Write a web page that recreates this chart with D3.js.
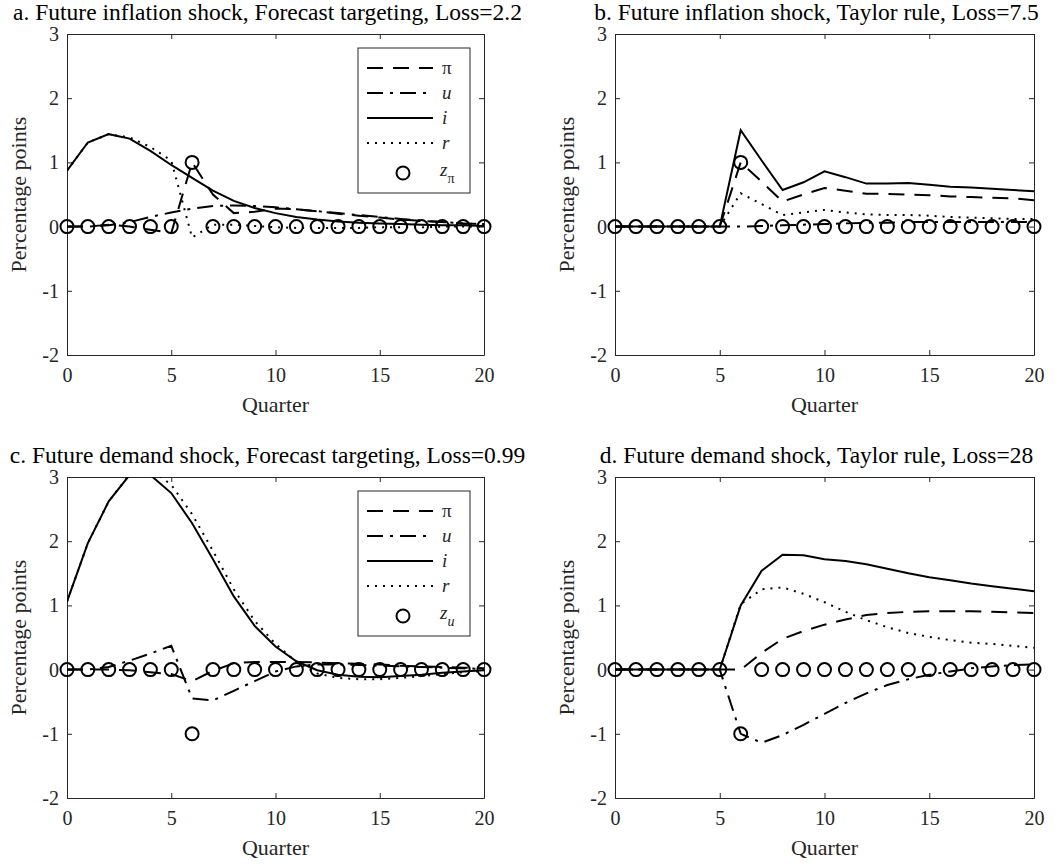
<!DOCTYPE html>
<html><head><meta charset="utf-8">
<script src="https://cdn.jsdelivr.net/npm/d3@7"></script>
<style>
body{margin:0;background:#fff;}
svg text{font-family:"Liberation Serif","Times New Roman",Tinos,Times,serif;}
</style></head><body>
<svg id="chart" width="1062" height="865"></svg>
<script>
// ---------- data ----------
const quarters = [0,1,2,3,4,5,6,7,8,9,10,11,12,13,14,15,16,17,18,19,20];
const xTicks = [0,5,10,15,20];
const yTicks = [-2,-1,0,1,2,3];
const yTickLabels = ["-2","-1","0","1","2","3"];
const titles = [
  "a. Future inflation shock, Forecast targeting, Loss=2.2",
  "b. Future inflation shock, Taylor rule, Loss=7.5",
  "c. Future demand shock, Forecast targeting, Loss=0.99",
  "d. Future demand shock, Taylor rule, Loss=28"
];
const seriesNames = ["π","u","i","r"];

// a. inflation shock, forecast targeting
const aPi = [0,0,0.03,0,-0.05,-0.1,1.0,0.5,0.21,0.23,0.28,0.27,0.24,0.2,0.17,0.14,0.11,0.09,0.07,0.05,0.04];
const aU  = [0,0,0.02,0.07,0.15,0.22,0.28,0.32,0.33,0.32,0.3,0.27,0.24,0.21,0.18,0.15,0.12,0.09,0.07,0.05,0.04];
const aI  = [0.87,1.31,1.44,1.37,1.18,0.96,0.76,0.56,0.4,0.29,0.21,0.15,0.11,0.08,0.06,0.05,0.04,0.03,0.02,0.02,0.01];
const aR  = [0.87,1.31,1.44,1.39,1.24,1.03,-0.17,0.03,0.03,0.01,-0.01,-0.02,-0.02,-0.02,-0.02,-0.01,-0.01,-0.01,0,0,0];
const aZ  = [0,0,0,0,0,0,1,0,0,0,0,0,0,0,0,0,0,0,0,0,0];

// b. inflation shock, Taylor rule
const bPi = [0,0,0,0,0,0,1.0,0.7,0.39,0.5,0.6,0.56,0.51,0.51,0.5,0.49,0.47,0.46,0.45,0.44,0.41];
const bU  = [0,0,0,0,0,0,0,0.01,0.02,0.03,0.04,0.05,0.06,0.06,0.07,0.07,0.07,0.07,0.07,0.07,0.07];
const bI  = [0,0,0,0,0,0,1.5,1.03,0.57,0.69,0.86,0.77,0.67,0.67,0.68,0.65,0.62,0.61,0.59,0.57,0.55];
const bR  = [0,0,0,0,0,0,0.52,0.35,0.18,0.22,0.26,0.22,0.19,0.18,0.18,0.17,0.15,0.14,0.13,0.12,0.12];
const bZ  = [0,0,0,0,0,0,1,0,0,0,0,0,0,0,0,0,0,0,0,0,0];

// c. demand shock, forecast targeting
const cPi = [0,0,0,-0.01,-0.04,-0.07,-0.18,-0.02,0.1,0.12,0.12,0.12,0.11,0.1,0.09,0.08,0.06,0.05,0.04,0.03,0.02];
const cU  = [0,0,0.04,0.14,0.25,0.37,-0.45,-0.48,-0.33,-0.18,-0.03,0.05,0.08,0.08,0.07,0.06,0.05,0.04,0.03,0.02,0.01];
const cI  = [1.06,1.97,2.62,3.03,3.03,2.75,2.28,1.72,1.14,0.68,0.36,0.13,-0.01,-0.08,-0.11,-0.12,-0.1,-0.08,-0.05,-0.03,-0.01];
const cR  = [1.06,1.97,2.62,3.04,3.12,2.88,2.42,1.85,1.25,0.76,0.4,0.12,-0.06,-0.13,-0.15,-0.15,-0.13,-0.1,-0.07,-0.04,-0.02];
const cZ  = [0,0,0,0,0,0,-1,0,0,0,0,0,0,0,0,0,0,0,0,0,0];

// d. demand shock, Taylor rule
const dPi = [0,0,0,0,0,0,0,0.26,0.48,0.6,0.7,0.78,0.85,0.88,0.9,0.91,0.91,0.91,0.9,0.89,0.88];
const dU  = [0,0,0,0,0,0,-1.0,-1.14,-1.02,-0.86,-0.69,-0.52,-0.37,-0.24,-0.15,-0.08,-0.03,0.02,0.05,0.07,0.08];
const dI  = [0,0,0,0,0,0,1.0,1.54,1.79,1.78,1.72,1.69,1.64,1.57,1.5,1.44,1.39,1.34,1.3,1.26,1.22];
const dR  = [0,0,0,0,0,0,1.02,1.25,1.28,1.18,1.05,0.9,0.77,0.66,0.57,0.51,0.46,0.42,0.4,0.37,0.34];
const dZ  = [0,0,0,0,0,0,-1,0,0,0,0,0,0,0,0,0,0,0,0,0,0];

// ---------- layout / style ----------
const FONT = "Liberation Serif, Times New Roman, serif";
const cols = [{x0:67,x1:484},{x0:615,x1:1034}];
const rows = [{y0:34,y1:355},{y0:477,y1:798}];
const dashes = {"π":"16,10","u":"16,7,3,7","i":null,"r":"2,6"};
const axisColor = "#262626";

const panels = [
  {title:titles[0], data:[aPi,aU,aI,aR], z:aZ, legend:true, zSub:"π", col:0, row:0},
  {title:titles[1], data:[bPi,bU,bI,bR], z:bZ, legend:false, col:1, row:0},
  {title:titles[2], data:[cPi,cU,cI,cR], z:cZ, legend:true, zSub:"u", col:0, row:1},
  {title:titles[3], data:[dPi,dU,dI,dR], z:dZ, legend:false, col:1, row:1}
];

const svg = d3.select("#chart").attr("font-family",FONT);
svg.append("rect").attr("width",1062).attr("height",865).attr("fill","#fff");
const defs = svg.append("defs");

panels.forEach((p, k) => {
  const c = cols[p.col], rw = rows[p.row];
  const x = d3.scaleLinear().domain([0,20]).range([c.x0, c.x1]);
  const y = d3.scaleLinear().domain([-2,3]).range([rw.y1, rw.y0]);
  const g = svg.append("g");

  const cid = "clip"+k;
  defs.append("clipPath").attr("id",cid)
    .append("rect").attr("x",c.x0).attr("y",rw.y0).attr("width",c.x1-c.x0).attr("height",rw.y1-rw.y0);

  const fs = 20;
  const gB = g.append("g").attr("transform",`translate(0,${rw.y1})`)
    .call(d3.axisBottom(x).tickValues(xTicks).tickFormat(d=>String(d)).tickSizeInner(-5).tickSizeOuter(0).tickPadding(13));
  const gT = g.append("g").attr("transform",`translate(0,${rw.y0})`)
    .call(d3.axisTop(x).tickValues(xTicks).tickSizeInner(-5).tickSizeOuter(0).tickFormat(""));
  const gL = g.append("g").attr("transform",`translate(${c.x0},0)`)
    .call(d3.axisLeft(y).tickValues(yTicks).tickFormat((d,j)=>yTickLabels[j]).tickSizeInner(-5).tickSizeOuter(0).tickPadding(8));
  const gR = g.append("g").attr("transform",`translate(${c.x1},0)`)
    .call(d3.axisRight(y).tickValues(yTicks).tickSizeInner(-5).tickSizeOuter(0).tickFormat(""));
  [gB,gT,gL,gR].forEach(a => {
    a.attr("font-size",fs).attr("font-family",FONT);
    a.selectAll("path.domain").attr("stroke",axisColor).attr("stroke-width",1);
    a.selectAll(".tick line").attr("stroke",axisColor).attr("stroke-width",1);
    a.selectAll(".tick text").attr("fill",axisColor);
  });

  const line = d3.line().x((d,j)=>x(quarters[j])).y(d=>y(d));
  const lg = g.append("g").attr("clip-path",`url(#${cid})`);
  p.data.forEach((arr, s) => {
    const name = seriesNames[s];
    lg.append("path").datum(arr).attr("d",line)
      .attr("fill","none").attr("stroke","#000").attr("stroke-width",2)
      .attr("stroke-dasharray",dashes[name]);
  });
  g.append("g").selectAll("circle").data(p.z).join("circle")
    .attr("cx",(d,j)=>x(quarters[j])).attr("cy",d=>y(d)).attr("r",6.5)
    .attr("fill","none").attr("stroke","#000").attr("stroke-width",2);

  g.append("text").attr("x",(c.x0+c.x1)/2 - 8).attr("y",rw.y0-14)
    .attr("text-anchor","middle").attr("font-size",23.5).attr("fill","#000").text(p.title);
  g.append("text").attr("x",(c.x0+c.x1)/2).attr("y",rw.y1+57)
    .attr("text-anchor","middle").attr("font-size",22).attr("fill",axisColor).text("Quarter");
  g.append("text").attr("transform",`translate(${c.x0-41},${(rw.y0+rw.y1)/2}) rotate(-90)`)
    .attr("text-anchor","middle").attr("font-size",22).attr("fill",axisColor).text("Percentage points");

  if (p.legend) {
    const bx = c.x1 - 126, by = rw.y0 + 14, bw = 112, bh = 145;
    const lgd = g.append("g");
    lgd.append("rect").attr("x",bx).attr("y",by).attr("width",bw).attr("height",bh)
      .attr("fill","#fff").attr("stroke",axisColor).attr("stroke-width",1);
    const rowsY = [20,45,70,95];
    seriesNames.forEach((name, s) => {
      const yy = by + rowsY[s];
      lgd.append("line").attr("x1",bx+9).attr("x2",bx+75).attr("y1",yy).attr("y2",yy)
        .attr("stroke","#000").attr("stroke-width",2).attr("stroke-dasharray",dashes[name]);
      lgd.append("text").attr("x",bx+84).attr("y",yy+6).attr("font-size",19)
        .attr("font-style", name==="π" ? "normal" : "italic").attr("fill",axisColor).text(name);
    });
    const zy = by + 125;
    lgd.append("circle").attr("cx",bx+45).attr("cy",zy).attr("r",6.5)
      .attr("fill","none").attr("stroke","#000").attr("stroke-width",2);
    const zt = lgd.append("text").attr("x",bx+82).attr("y",zy+3).attr("font-size",19).attr("fill",axisColor);
    zt.append("tspan").attr("font-style","italic").text("z");
    zt.append("tspan").attr("dy",7).attr("font-size",14)
      .attr("font-style", p.zSub==="π" ? "normal" : "italic").text(p.zSub);
  }
});
</script>
</body></html>
